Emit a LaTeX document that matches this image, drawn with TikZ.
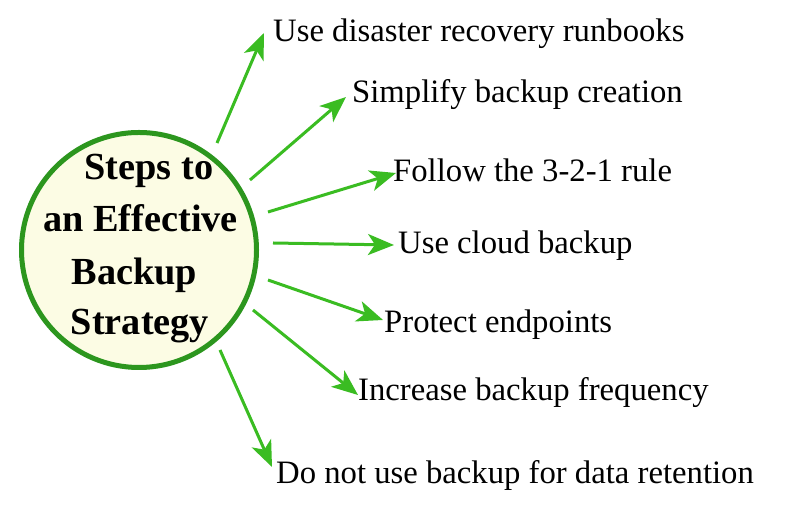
\documentclass[tikz,border=0pt]{standalone}
\usepackage{fontspec}
\setmainfont{Liberation Serif}
\usetikzlibrary{arrows.meta,calc}
\definecolor{arrowgreen}{RGB}{58,188,34}
\definecolor{ringgreen}{RGB}{44,150,30}
\definecolor{hubfill}{RGB}{252,252,228}
\tikzset{
  hubstyle/.style={circle,draw=ringgreen,line width=5pt,fill=hubfill,minimum size=235pt,inner sep=0pt},
  hubtext/.style={anchor=base,inner sep=0pt,font=\fontsize{38.3}{46}\selectfont\bfseries},
  steplabel/.style={anchor=base west,inner sep=0pt,font=\fontsize{32.7}{39}\selectfont},
  arr/.style={draw=arrowgreen,line width=3pt,arrows={-Stealth[length=26pt,width=21pt,inset=7pt]}}
}
\begin{document}
\begin{tikzpicture}[x=1pt,y=1pt]
\useasboundingbox[fill=white] (0,0) rectangle (800,516);
\node[hubstyle] (hub) at (139,266) {};
\node[hubtext] (h1) at (149,336) {Steps to};
\node[hubtext] (h2) at (140.5,284) {an Effective};
\node[hubtext] (h3) at (134.5,231) {Backup};
\node[hubtext] (h4) at (140,181) {Strategy};

\node[steplabel] (l1) at (273,474) {Use disaster recovery runbooks};
\node[steplabel] (l2) at (352,413) {Simplify backup creation};
\node[steplabel] (l3) at (393,334) {Follow the 3-2-1 rule};
\node[steplabel] (l4) at (398,262) {Use cloud backup};
\node[steplabel] (l5) at (384,183) {Protect endpoints};
\node[steplabel] (l6) at (358,115) {Increase backup frequency};
\node[steplabel] (l7) at (276,32) {Do not use backup for data retention};

\coordinate (s1) at (217,373); \coordinate (t1) at (264,483);
\coordinate (s2) at (250,336); \coordinate (t2) at (346,419);
\coordinate (s3) at (268,304); \coordinate (t3) at (396,343);
\coordinate (s4) at (273,273); \coordinate (t4) at (394,271);
\coordinate (s5) at (268,236); \coordinate (t5) at (383,196);
\coordinate (s6) at (253,206); \coordinate (t6) at (358,121);
\coordinate (s7) at (220,166); \coordinate (t7) at (272,49);

\draw[arr] (s1) -- (t1);
\draw[arr] (s2) -- (t2);
\draw[arr] (s3) -- (t3);
\draw[arr] (s4) -- (t4);
\draw[arr] (s5) -- (t5);
\draw[arr] (s6) -- (t6);
\draw[arr] (s7) -- (t7);
\end{tikzpicture}
\end{document}
